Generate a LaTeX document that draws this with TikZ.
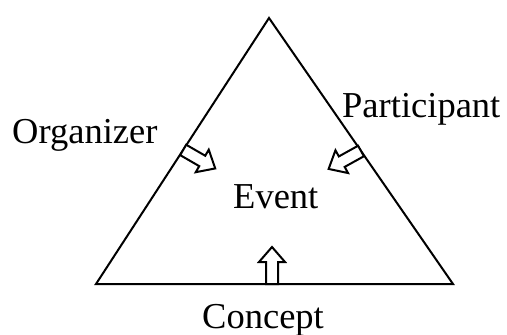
\documentclass[tikz,border=0pt]{standalone}
\usepackage{fontspec}
\setmainfont{Liberation Serif}
\usetikzlibrary{calc}
\tikzset{
  edge/.style={line width=2pt, line join=miter},
  blockarrow/.style={draw=black, fill=white, line width=2pt, line join=miter},
  lbl/.style={inner sep=0pt, anchor=base west, font=\fontsize{36.5}{40}\selectfont}
}
\newcommand{\blockarr}[2]{%
  \begin{scope}[shift={(#1)}, rotate=#2]
    \draw[blockarrow] (0,-6) -- (22,-6) -- (22,-13) -- (37,0) -- (22,13) -- (22,6) -- (0,6) -- cycle;
  \end{scope}}
\begin{document}
\begin{tikzpicture}[x=1pt,y=-1pt]
  \useasboundingbox (0,0) rectangle (507,335);
  \coordinate (A) at (269,18);
  \coordinate (BL) at (96,284);
  \coordinate (BR) at (453,284);
  \draw[edge] (A) -- (BL) -- (BR) -- cycle;
  \coordinate (tl) at ($(BL)!0.504!(A)$);
  \coordinate (tr) at ($(A)!0.5!(BR)$);
  \coordinate (tb) at ($(BL)!0.493!(BR)$);
  \blockarr{tl}{-30}
  \blockarr{tr}{-151}
  \blockarr{tb}{90}
  \node[lbl] (org) at (12,143) {Organizer};
  \node[lbl] (par) at (342,117) {Participant};
  \node[lbl] (evt) at (233,208) {Event};
  \node[lbl] (con) at (202,328) {Concept};
\end{tikzpicture}
\end{document}
